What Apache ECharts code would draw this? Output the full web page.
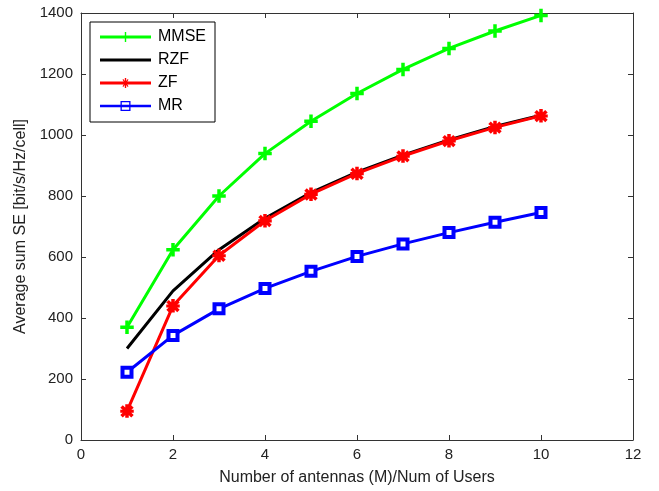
<!DOCTYPE html>
<html>
<head>
<meta charset="utf-8">
<script src="https://cdn.jsdelivr.net/npm/echarts@6/dist/echarts.min.js"></script>
<style>
  html, body { margin: 0; padding: 0; background: #fff; }
  #chart { width: 659px; height: 491px; }
</style>
</head>
<body>
<div id="chart"></div>
<script>
// Antenna-to-user ratio (M / K)
const ratios = [1, 2, 3, 4, 5, 6, 7, 8, 9, 10];

// Average sum spectral efficiency per precoder [bit/s/Hz/cell]
const mmse = [370, 624, 800, 939, 1045, 1136, 1215, 1284, 1341, 1392];
const rzf  = [300, 489, 624, 727, 811, 878, 934, 984, 1028, 1065];
const zf   = [95, 440, 605, 719, 806, 874, 931, 981, 1025, 1063];
const mr   = [222, 343, 430, 497, 553, 602, 643, 680, 714, 746];

const xTicks = [0, 2, 4, 6, 8, 10, 12];
const yTicks = [0, 200, 400, 600, 800, 1000, 1200, 1400];

const pair = (ys) => ratios.map((x, i) => [x, ys[i]]);

// Plot markers
const plusPath = 'path://M-1,-6H1V-1H6V1H1V6H-1V1H-6V-1H-1Z';
const starPath = 'path://M-1,-6H1V-1.7L4.2,-4.8L5.6,-3.4L2.4,-0.6H6V1H2.4L5.6,4L4.2,5.4L1,2.2V6H-1V2.2L-4.2,5.4L-5.6,4L-2.4,1H-6V-0.6H-2.4L-5.6,-3.4L-4.2,-4.8L-1,-1.7Z';

// Legend keys: a thick line with a thin marker in the middle
const keyBar = 'M0,4.5H51V7.5H0Z';
const keyPlus = 'path://' + keyBar + 'M24.8,1H26.2V11H24.8Z';
const keyStar = 'path://' + keyBar + 'M24.8,1H26.2V11H24.8ZM22.5,2.8L23.3,2L28.5,9.2L27.7,10ZM27.7,2L28.5,2.8L23.3,10L22.5,9.2Z';
const keyLine = 'path://' + keyBar;
const keySquare = 'path://M0,4.8H51V7.2H0ZM20.5,1H30.5V11H20.5ZM21.8,2.3V9.7H29.2V2.3Z';

const axisColor = '#333';
const font = 'Liberation Sans, Arial, Helvetica, sans-serif';
const tickLabelStyle = { color: '#222', fontSize: 15, fontFamily: font };
const nameStyle = { color: '#222', fontSize: 16, fontFamily: font };

// Ticks point into the plot box on every side
const tickIn = { show: true, inside: true, length: 5, lineStyle: { color: axisColor, width: 1 } };
const boxLine = { show: true, onZero: false, lineStyle: { color: axisColor, width: 1 } };

const chart = echarts.init(document.getElementById('chart'), null, { renderer: 'canvas' });

function line(name, data, color, symbol, size, extra) {
  return Object.assign({
    name: name,
    type: 'line',
    data: pair(data),
    xAxisIndex: 0,
    yAxisIndex: 0,
    lineStyle: { color: color, width: 3 },
    itemStyle: { color: color, borderColor: color, borderWidth: 1.5 },
    symbol: symbol,
    symbolSize: size,
    showSymbol: symbol !== 'none',
    animation: false,
    z: 3
  }, extra || {});
}

const keyStyle = (c) => ({ color: c, borderWidth: 0 });

chart.setOption({
  backgroundColor: '#fff',
  animation: false,
  grid: { left: 81, right: 26, top: 13, bottom: 50, show: false },
  legend: {
    data: [
      { name: 'MMSE', icon: keyPlus, itemStyle: keyStyle('#00ff00') },
      { name: 'RZF', icon: keyLine, itemStyle: keyStyle('#000000') },
      { name: 'ZF', icon: keyStar, itemStyle: keyStyle('#ff0000') },
      { name: 'MR', icon: keySquare, itemStyle: keyStyle('#0000ff') }
    ],
    orient: 'vertical',
    left: 90,
    top: 22,
    itemWidth: 51,
    itemHeight: 12,
    itemGap: 7,
    padding: [7, 9, 8, 10],
    borderColor: '#000',
    borderWidth: 1,
    borderRadius: 0,
    backgroundColor: '#fff',
    textStyle: { color: '#000', fontSize: 16, lineHeight: 16, fontFamily: font, padding: [0, 0, 0, 2] },
    selectedMode: false
  },
  xAxis: [
    {
      type: 'value', min: 0, max: 12, interval: 2,
      name: 'Number of antennas (M)/Num of Users',
      nameLocation: 'middle', nameGap: 30,
      nameTextStyle: nameStyle,
      axisLine: boxLine,
      axisTick: tickIn,
      axisLabel: Object.assign({ margin: 7, formatter: (v) => xTicks.includes(v) ? String(v) : '' }, tickLabelStyle),
      splitLine: { show: false }
    },
    {
      type: 'value', min: 0, max: 12, interval: 2, position: 'top',
      axisLine: boxLine,
      axisTick: tickIn,
      axisLabel: { show: false },
      splitLine: { show: false }
    }
  ],
  yAxis: [
    {
      type: 'value', min: 0, max: 1400, interval: 200,
      name: 'Average sum SE [bit/s/Hz/cell]',
      nameLocation: 'middle', nameGap: 50, nameRotate: 90,
      nameTextStyle: nameStyle,
      axisLine: boxLine,
      axisTick: tickIn,
      axisLabel: Object.assign({ margin: 8, formatter: (v) => yTicks.includes(v) ? String(v) : '' }, tickLabelStyle),
      splitLine: { show: false }
    },
    {
      type: 'value', min: 0, max: 1400, interval: 200, position: 'right',
      axisLine: boxLine,
      axisTick: tickIn,
      axisLabel: { show: false },
      splitLine: { show: false }
    }
  ],
  series: [
    line('MMSE', mmse, '#00ff00', plusPath, 12),
    line('RZF', rzf, '#000000', 'none', 0),
    line('ZF', zf, '#ff0000', starPath, 12),
    line('MR', mr, '#0000ff', 'rect', 9, {
      itemStyle: { color: '#fff', borderColor: '#0000ff', borderWidth: 4 }
    }),
    // empty series so the top and right frame axes are laid out
    { type: 'line', data: [], xAxisIndex: 1, yAxisIndex: 1, silent: true }
  ]
});
</script>
</body>
</html>
